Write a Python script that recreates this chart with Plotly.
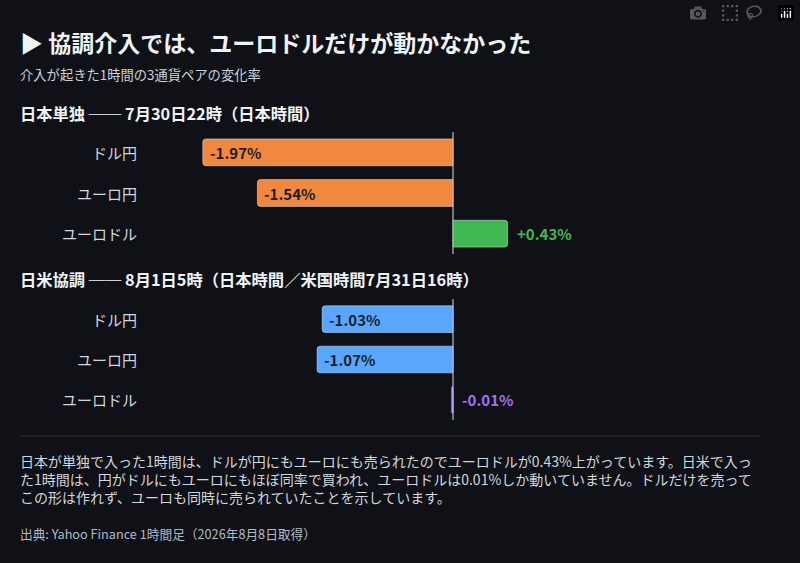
import plotly.graph_objects as go

pairs = ["ドル円", "ユーロ円", "ユーロドル"]
solo_values = [-1.97, -1.54, 0.43]
joint_values = [-1.03, -1.07, -0.01]
solo_colors = ["#f0883e", "#f0883e", "#3fb950"]
joint_colors = ["#58a6ff", "#58a6ff", "#a371f7"]
solo_title = "日本単独 ── 7月30日22時（日本時間）"
joint_title = "日米協調 ── 8月1日5時（日本時間／米国時間7月31日16時）"

W, H = 800, 563
BG = "#0f1117"
def py(px): return 1 - px / H
def pxx(px): return px / W

fig = go.Figure()
fig.add_trace(go.Bar(y=pairs, x=solo_values, orientation="h", marker=dict(color=solo_colors, cornerradius=3),
                     width=0.66, xaxis="x", yaxis="y", hoverinfo="skip", showlegend=False))
fig.add_trace(go.Bar(y=pairs, x=joint_values, orientation="h", marker=dict(color=joint_colors, cornerradius=3),
                     width=0.66, xaxis="x2", yaxis="y2", hoverinfo="skip", showlegend=False))

xa = dict(range=[-3.0, 2.0], domain=[pxx(72), pxx(707)], showgrid=False, showticklabels=False,
          zeroline=True, zerolinecolor="#6e7681", zerolinewidth=1.5, fixedrange=True)
ya = dict(showgrid=False, showticklabels=False, autorange="reversed", fixedrange=True)
fig.update_layout(
    width=W, height=H, paper_bgcolor=BG, plot_bgcolor=BG, margin=dict(l=0, r=0, t=0, b=0),
    font=dict(family="Noto Sans CJK JP", color="#e6edf3"),
    xaxis=dict(xa, anchor="y"), xaxis2=dict(xa, anchor="y2"),
    yaxis=dict(ya, domain=[py(254), py(132)], anchor="x"),
    yaxis2=dict(ya, domain=[py(420), py(299)], anchor="x2"),
)

ann = []
def A(x, y, t, size, color, bold=False, xanchor="left", xref="paper", yref="paper", **kw):
    ann.append(dict(x=x, y=y, xref=xref, yref=yref, text=f"<b>{t}</b>" if bold else t, showarrow=False,
                    xanchor=xanchor, yanchor="middle", font=dict(size=size, color=color), **kw))

A(pxx(18), py(42), "▶ 協調介入では、ユーロドルだけが動かなかった", 23, "#f0f3f6", True)
A(pxx(18), py(74), "介入が起きた1時間の3通貨ペアの変化率", 13.3, "#c9d1d9")
A(pxx(18), py(113), solo_title, 16.3, "#f0f3f6", True)
A(pxx(18), py(279), joint_title, 16.3, "#f0f3f6", True)

for vals, cols, xr, yr in [(solo_values, solo_colors, "x", "y"), (joint_values, joint_colors, "x2", "y2")]:
    for p, v, c in zip(pairs, vals, cols):
        A(pxx(139), p, p, 15, "#d0d7de", xanchor="right", yref=yr)
        if v < -0.2:
            A(v, p, f"{v:.2f}%", 15, "#1b1f24", True, xref=xr, yref=yr, xshift=5)
        else:
            s = f"+{v:.2f}%" if v > 0 else f"{v:.2f}%"
            A(max(v, 0), p, s, 15, c, True, xref=xr, yref=yr, xshift=7)

txt = ("日本が単独で入った1時間は、ドルが円にもユーロにも売られたのでユーロドルが0.43%上がっています。日米で入っ<br>"
       "た1時間は、円がドルにもユーロにもほぼ同率で買われ、ユーロドルは0.01%しか動いていません。ドルだけを売って<br>"
       "この形は作れず、ユーロも同時に売られていたことを示しています。")
ann.append(dict(x=pxx(18), y=py(449), xref="paper", yref="paper", text=txt, showarrow=False, align="left",
                xanchor="left", yanchor="top", font=dict(size=14, color="#d0d7de")))
A(pxx(18), py(533), "出典: Yahoo Finance 1時間足（2026年8月8日取得）", 12.7, "#b1bac4")
fig.update_layout(annotations=ann, shapes=[dict(type="line", xref="paper", yref="paper", x0=pxx(20), x1=pxx(760),
                  y0=py(436), y1=py(436), line=dict(color="#30363d", width=1))])
fig.write_html("out.html")
with open("out.html", encoding="utf-8") as f:
    h = f.read()
h = h.replace("<body>", '<body style="margin:0;background:#0f1117">', 1)
with open("out.html", "w", encoding="utf-8") as f:
    f.write(h)
